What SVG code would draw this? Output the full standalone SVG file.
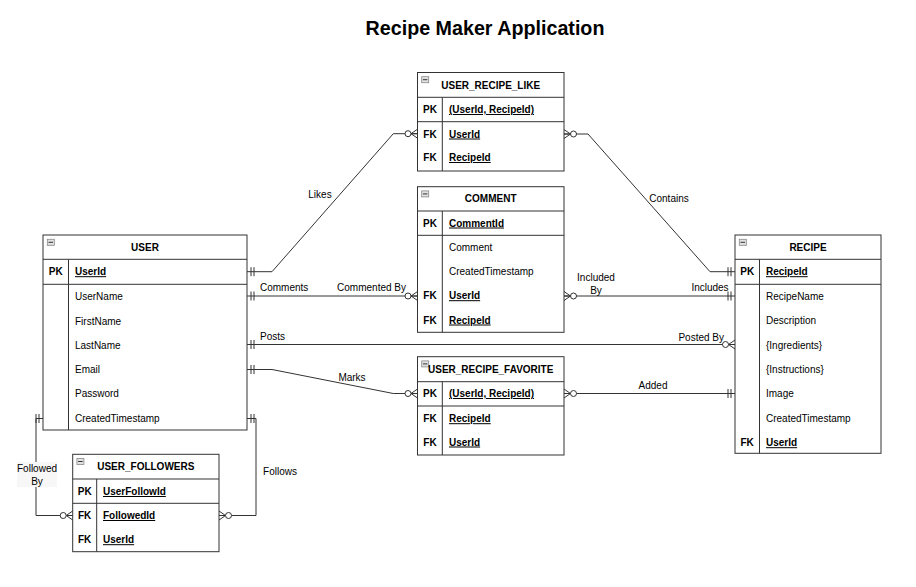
<svg xmlns="http://www.w3.org/2000/svg" width="916" height="587" viewBox="0 0 916 587">
<style>
text{font-family:"Liberation Sans",Arial,sans-serif;font-size:10px;fill:#000}
.title{font-size:19.7px;font-weight:bold}
.hdr{font-weight:bold;text-anchor:middle}
.key{font-weight:bold;text-anchor:middle}
.pk{font-weight:bold;text-decoration:underline}
.lbl{font-size:10px}
.mid{text-anchor:middle}
.box{fill:#fff;stroke:#333;stroke-width:1}
.ln{stroke:#333;stroke-width:1;fill:none}
.icon{fill:#e2e2e2;stroke:#888;stroke-width:0.8}
</style>
<defs>
<marker id="one" viewBox="-12 -6 14 12" refX="0" refY="0" markerWidth="14" markerHeight="12" markerUnits="userSpaceOnUse" orient="auto-start-reverse">
<path d="M-7,-4.5V4.5M-4,-4.5V4.5" stroke="#333" stroke-width="1" fill="none"/>
</marker>
<marker id="many" viewBox="-14 -6 16 12" refX="0" refY="0" markerWidth="16" markerHeight="12" markerUnits="userSpaceOnUse" orient="auto-start-reverse">
<path d="M0,-4.5L-6.5,0L0,4.5M-6.5,0H0" stroke="#333" stroke-width="1" fill="none"/>
<circle cx="-9.5" cy="0" r="3" fill="#fff" stroke="#333" stroke-width="1"/>
</marker>
</defs>
<rect width="916" height="587" fill="#fff"/>
<text class="title" x="485" y="35" text-anchor="middle">Recipe Maker Application</text>

<g id="connectors">
<path class="ln" d="M247,271.7H272L393.3,133.7H417.5" marker-start="url(#one)" marker-end="url(#many)"/>
<path class="ln" d="M247,296H417.5" marker-start="url(#one)" marker-end="url(#many)"/>
<path class="ln" d="M247,344.5H735" marker-start="url(#one)" marker-end="url(#many)"/>
<path class="ln" d="M247,369.5H272L393.3,393.5H417.5" marker-start="url(#one)" marker-end="url(#many)"/>
<path class="ln" d="M43,418.5H36V515.5H72.7" marker-start="url(#one)" marker-end="url(#many)"/>
<path class="ln" d="M247,418.5H256V515.5H219" marker-start="url(#one)" marker-end="url(#many)"/>
<path class="ln" d="M564,134H588L710,271.7H735" marker-start="url(#many)" marker-end="url(#one)"/>
<path class="ln" d="M564,296H735" marker-start="url(#many)" marker-end="url(#one)"/>
<path class="ln" d="M564,393.5H735" marker-start="url(#many)" marker-end="url(#one)"/>
<text class="lbl mid" x="320" y="198">Likes</text>
<text class="lbl" x="260" y="291">Comments</text>
<text class="lbl" x="406" y="291" text-anchor="end">Commented By</text>
<text class="lbl" x="260" y="340">Posts</text>
<text class="lbl mid" x="352" y="380.5">Marks</text>
<text class="lbl mid" x="669" y="202">Contains</text>
<text class="lbl mid" x="596" y="281">Included</text>
<text class="lbl mid" x="596" y="293.5">By</text>
<text class="lbl mid" x="710" y="291">Includes</text>
<text class="lbl" x="724" y="340.5" text-anchor="end">Posted By</text>
<text class="lbl mid" x="653" y="389">Added</text>
<rect x="17" y="462" width="40" height="25" fill="#f7f7f7"/>
<text class="lbl mid" x="37" y="472">Followed</text>
<text class="lbl mid" x="37" y="484.5">By</text>
<text class="lbl mid" x="280" y="474.5">Follows</text>
</g>

<g id="user">
<rect class="box" x="43" y="235" width="204" height="195"/>
<path class="ln" d="M43,259.3H247M43,284.3H247M68.5,259.3V430"/>
<rect class="icon" x="47.3" y="239.3" width="7" height="6"/><path d="M48.5,242.3H53" stroke="#333"/>
<text class="hdr" x="145" y="250.7">USER</text>
<text class="key" x="55.7" y="275.2">PK</text>
<text class="pk" x="75" y="275.2">UserId</text>
<text x="75" y="300">UserName</text>
<text x="75" y="324.5">FirstName</text>
<text x="75" y="348.5">LastName</text>
<text x="75" y="373">Email</text>
<text x="75" y="397.3">Password</text>
<text x="75" y="422">CreatedTimestamp</text>
</g>

<g id="user_recipe_like">
<rect class="box" x="417.5" y="72.5" width="146.5" height="98.5"/>
<path class="ln" d="M417.5,97.3H564M417.5,121.7H564M442.3,97.3V171"/>
<rect class="icon" x="421.7" y="76.7" width="7" height="6"/><path d="M422.9,79.7H427.4" stroke="#333"/>
<text class="hdr" x="490.7" y="88.5">USER_RECIPE_LIKE</text>
<text class="key" x="430" y="113">PK</text>
<text class="pk" x="449" y="113">(UserId, RecipeId)</text>
<text class="key" x="430" y="137.5">FK</text>
<text class="pk" x="449" y="137.5">UserId</text>
<text class="key" x="430" y="161">FK</text>
<text class="pk" x="449" y="161">RecipeId</text>
</g>

<g id="comment">
<rect class="box" x="417.5" y="186.7" width="146.5" height="145.6"/>
<path class="ln" d="M417.5,211H564M417.5,235.3H564M442.3,211V332.3"/>
<rect class="icon" x="421.7" y="190.9" width="7" height="6"/><path d="M422.9,193.9H427.4" stroke="#333"/>
<text class="hdr" x="490.7" y="202.3">COMMENT</text>
<text class="key" x="430" y="226.5">PK</text>
<text class="pk" x="449" y="226.5">CommentId</text>
<text x="449" y="250.5">Comment</text>
<text x="449" y="274.8">CreatedTimestamp</text>
<text class="key" x="430" y="299.2">FK</text>
<text class="pk" x="449" y="299.2">UserId</text>
<text class="key" x="430" y="323.5">FK</text>
<text class="pk" x="449" y="323.5">RecipeId</text>
</g>

<g id="recipe">
<rect class="box" x="735" y="235" width="146" height="218.3"/>
<path class="ln" d="M735,259.3H881M735,284.3H881M759.5,259.3V453.3"/>
<rect class="icon" x="739.3" y="239.3" width="7" height="6"/><path d="M740.5,242.3H745" stroke="#333"/>
<text class="hdr" x="808" y="250.7">RECIPE</text>
<text class="key" x="747.2" y="275.2">PK</text>
<text class="pk" x="766" y="275.2">RecipeId</text>
<text x="766" y="299.5">RecipeName</text>
<text x="766" y="324.2">Description</text>
<text x="766" y="348.5">{Ingredients}</text>
<text x="766" y="372.5">{Instructions}</text>
<text x="766" y="397.2">Image</text>
<text x="766" y="421.5">CreatedTimestamp</text>
<text class="key" x="747.2" y="446.2">FK</text>
<text class="pk" x="766" y="446.2">UserId</text>
</g>

<g id="user_recipe_favorite">
<rect class="box" x="417.5" y="356.7" width="146.5" height="98.3"/>
<path class="ln" d="M417.5,381.7H564M417.5,406H564M442.3,381.7V455"/>
<rect class="icon" x="421.7" y="360.9" width="7" height="6"/><path d="M422.9,363.9H427.4" stroke="#333"/>
<text class="hdr" x="490.7" y="372.7">USER_RECIPE_FAVORITE</text>
<text class="key" x="430" y="397">PK</text>
<text class="pk" x="449" y="397">(UserId, RecipeId)</text>
<text class="key" x="430" y="422.2">FK</text>
<text class="pk" x="449" y="422.2">RecipeId</text>
<text class="key" x="430" y="445.5">FK</text>
<text class="pk" x="449" y="445.5">UserId</text>
</g>

<g id="user_followers">
<rect class="box" x="72.7" y="454.3" width="146.3" height="97.4"/>
<path class="ln" d="M72.7,479H219M72.7,503.3H219M96.7,479V551.7"/>
<rect class="icon" x="76.9" y="458.5" width="7" height="6"/><path d="M78.1,461.5H82.6" stroke="#333"/>
<text class="hdr" x="145.8" y="470.2">USER_FOLLOWERS</text>
<text class="key" x="84.7" y="495">PK</text>
<text class="pk" x="103" y="495">UserFollowId</text>
<text class="key" x="84.7" y="519">FK</text>
<text class="pk" x="103" y="519">FollowedId</text>
<text class="key" x="84.7" y="543.2">FK</text>
<text class="pk" x="103" y="543.2">UserId</text>
</g>
</svg>
